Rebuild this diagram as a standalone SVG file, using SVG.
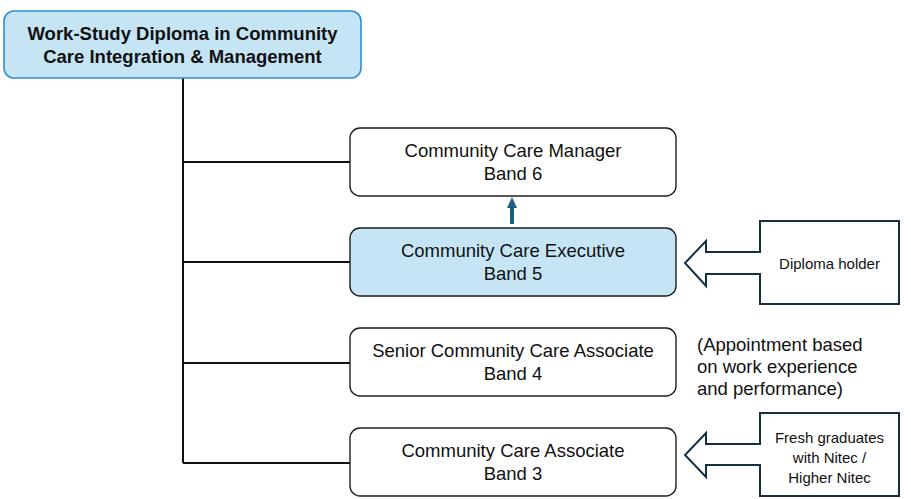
<svg xmlns="http://www.w3.org/2000/svg" width="911" height="499" viewBox="0 0 911 499">
<style>
.bg{fill:#ffffff}
.box{fill:#ffffff;stroke:#1e1e1e;stroke-width:1.4}
.hl{fill:#c5e5f5}
.top{fill:#c5e5f5;stroke:#2f8fd8;stroke-width:1.6}
.conn{fill:none;stroke:#111111;stroke-width:2}
.callout{fill:#ffffff;stroke:#16303f;stroke-width:2;stroke-linejoin:miter}
.up{fill:#1f5f82}
text{font-family:"Liberation Sans",Arial,sans-serif;fill:#111111;text-anchor:middle}
.t{font-size:18.5px}
.tb{font-size:18.5px;font-weight:bold}
.note{font-size:18.5px;text-anchor:start}
.c{font-size:15px}
</style>
<rect class="bg" x="0" y="0" width="911" height="499"/>
<g id="connectors">
<path class="conn" d="M183,78 V463"/>
<path class="conn" d="M183,162 H350"/>
<path class="conn" d="M183,262 H350"/>
<path class="conn" d="M183,363 H350"/>
<path class="conn" d="M183,463 H350"/>
<path class="up" d="M512,197 L517,208 H514 V224 H510 V208 H507 Z"/>
</g>
<g id="node-diploma">
<rect class="top" x="4" y="11" width="357" height="67" rx="10"/>
<text class="tb" x="182.5" y="40">Work-Study Diploma in Community</text>
<text class="tb" x="182.5" y="63">Care Integration &amp; Management</text>
</g>
<g id="node-manager">
<rect class="box" x="350" y="128" width="326" height="68" rx="10"/>
<text class="t" x="513" y="157">Community Care Manager</text>
<text class="t" x="513" y="180">Band 6</text>
</g>
<g id="node-executive">
<rect class="box hl" x="350" y="228" width="326" height="68" rx="10"/>
<text class="t" x="513" y="257">Community Care Executive</text>
<text class="t" x="513" y="280">Band 5</text>
</g>
<g id="node-senior">
<rect class="box" x="350" y="328" width="326" height="68" rx="10"/>
<text class="t" x="513" y="357">Senior Community Care Associate</text>
<text class="t" x="513" y="380">Band 4</text>
</g>
<g id="node-associate">
<rect class="box" x="350" y="428" width="326" height="68" rx="10"/>
<text class="t" x="513" y="457">Community Care Associate</text>
<text class="t" x="513" y="480">Band 3</text>
</g>
<g id="note-appointment">
<text class="note" x="697" y="351">(Appointment based</text>
<text class="note" x="697" y="373">on work experience</text>
<text class="note" x="697" y="395">and performance)</text>
</g>
<g id="callout-diploma">
<path class="callout" d="M760,221 H899 V304 H760 V274 H706 V286 L685,263 L706,241 V252 H760 Z"/>
<text class="c" x="829.5" y="269">Diploma holder</text>
</g>
<g id="callout-fresh">
<path class="callout" d="M760,413 H899 V496 H760 V465 H706 V477 L685,455 L706,433 V444 H760 Z"/>
<text class="c" x="829.5" y="443">Fresh graduates</text>
<text class="c" x="829.5" y="463">with Nitec /</text>
<text class="c" x="829.5" y="483">Higher Nitec</text>
</g>
</svg>
